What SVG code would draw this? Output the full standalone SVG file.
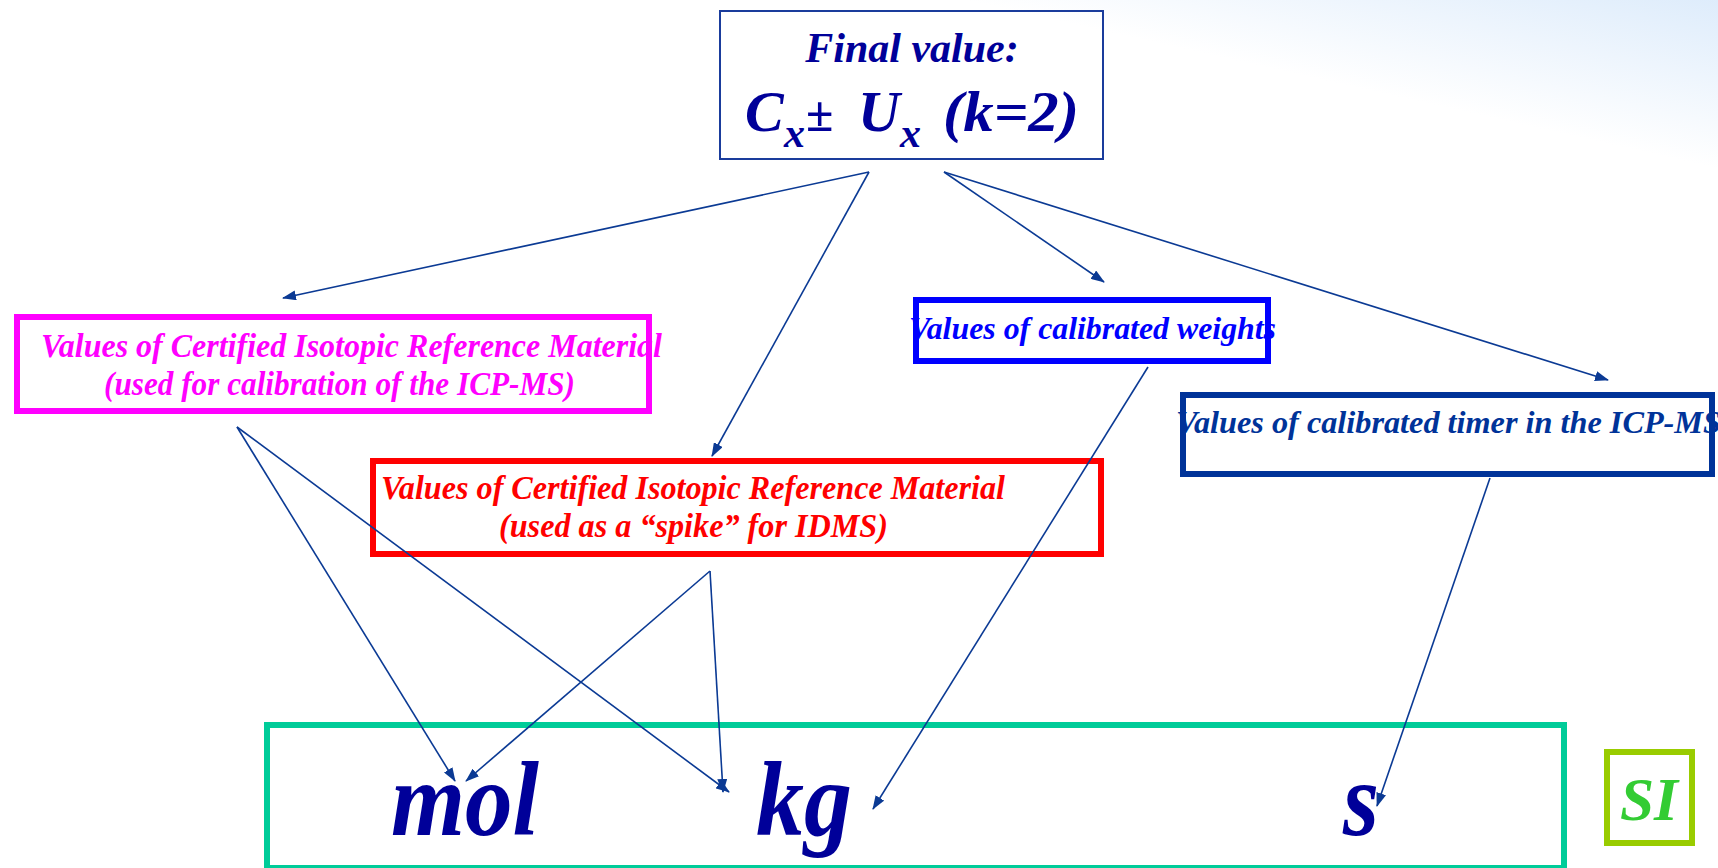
<svg xmlns="http://www.w3.org/2000/svg" width="1718" height="868" viewBox="0 0 1718 868">
<defs>
<linearGradient id="bg" gradientUnits="userSpaceOnUse" x1="1718" y1="-10" x2="1680" y2="160">
<stop offset="0" stop-color="#dcebfb"/>
<stop offset="1" stop-color="#ffffff"/>
</linearGradient>
<marker id="ah" markerUnits="userSpaceOnUse" markerWidth="14" markerHeight="10" refX="13" refY="5" orient="auto">
<path d="M0,0 L14,5 L0,10 z" fill="#0b3a94"/>
</marker>
<style>
.t{font-family:"Liberation Serif","Times New Roman",serif;font-weight:bold;font-style:italic}
.box{fill:none;stroke-width:6}
.c{stroke:#0b3a94;stroke-width:1.6;fill:none;marker-end:url(#ah)}
</style>
</defs>
<rect x="0" y="0" width="1718" height="868" fill="#ffffff"/>
<rect x="0" y="0" width="1718" height="868" fill="url(#bg)"/>

<g id="final">
<rect x="720" y="11" width="383" height="148" fill="none" stroke="#1a3c9c" stroke-width="2"/>
<text class="t" x="912" y="62" font-size="42" fill="#000099" text-anchor="middle">Final value:</text>
<text class="t" x="745" y="131" font-size="58" fill="#000099">C</text>
<text class="t" x="784" y="147" font-size="42" fill="#000099">x</text>
<text class="t" x="806" y="131" font-size="50" fill="#000099">±</text>
<text class="t" x="858" y="131" font-size="58" fill="#000099">U</text>
<text class="t" x="900" y="147" font-size="42" fill="#000099">x</text>
<text class="t" x="943" y="131" font-size="58" fill="#000099" textLength="136" lengthAdjust="spacingAndGlyphs">(k=2)</text>
</g>

<g id="pink">
<text class="t" x="41" y="357" font-size="34" fill="#ff00ff" textLength="621" lengthAdjust="spacingAndGlyphs">Values of Certified Isotopic Reference Material</text>
<text class="t" x="104" y="395" font-size="34" fill="#ff00ff" textLength="471" lengthAdjust="spacingAndGlyphs">(used for calibration of the ICP-MS)</text>
<rect class="box" x="17" y="317" width="632" height="94" stroke="#ff00ff"/>
</g>

<g id="red">
<text class="t" x="381" y="499" font-size="34" fill="#ff0000" textLength="624" lengthAdjust="spacingAndGlyphs">Values of Certified Isotopic Reference Material</text>
<text class="t" x="499" y="537" font-size="34" fill="#ff0000" textLength="389" lengthAdjust="spacingAndGlyphs">(used as a “spike” for IDMS)</text>
<rect class="box" x="373" y="461" width="728" height="93" stroke="#ff0000"/>
</g>

<g id="weights">
<text class="t" x="909" y="339" font-size="32" fill="#0000ff" textLength="367" lengthAdjust="spacingAndGlyphs">Values of calibrated weights</text>
<rect class="box" x="916" y="300" width="352" height="61" stroke="#0000ff"/>
</g>

<g id="timer">
<text class="t" x="1176" y="433" font-size="32" fill="#003399" textLength="545" lengthAdjust="spacingAndGlyphs">Values of calibrated timer in the ICP-MS</text>
<rect class="box" x="1183" y="395" width="529" height="79" stroke="#003399"/>
</g>

<g id="si-units">
<rect class="box" x="267" y="725" width="1297" height="143" stroke="#00cc99"/>
<text class="t" x="391" y="835" font-size="106" fill="#000099" textLength="148" lengthAdjust="spacingAndGlyphs">mol</text>
<text class="t" x="756" y="835" font-size="106" fill="#000099" textLength="96" lengthAdjust="spacingAndGlyphs">kg</text>
<text class="t" x="1343" y="835" font-size="106" fill="#000099" textLength="36" lengthAdjust="spacingAndGlyphs">s</text>
</g>

<g id="si">
<rect class="box" x="1607" y="752" width="85" height="91" stroke="#99cc00"/>
<text class="t" x="1620" y="820" font-size="62" font-weight="normal" fill="#33cc33" textLength="58" lengthAdjust="spacingAndGlyphs">SI</text>
</g>

<g id="connectors">
<line class="c" x1="869" y1="172" x2="283" y2="298"/>
<line class="c" x1="869" y1="172" x2="712" y2="456"/>
<line class="c" x1="944" y1="172" x2="1104" y2="282"/>
<line class="c" x1="944" y1="172" x2="1608" y2="380"/>
<line class="c" x1="237" y1="427" x2="455" y2="781"/>
<line class="c" x1="237" y1="427" x2="729" y2="792"/>
<line class="c" x1="710" y1="571" x2="466" y2="781"/>
<line class="c" x1="710" y1="571" x2="723" y2="792"/>
<line class="c" x1="1148" y1="367" x2="873" y2="809"/>
<line class="c" x1="1490" y1="478" x2="1377" y2="806"/>
</g>
</svg>
